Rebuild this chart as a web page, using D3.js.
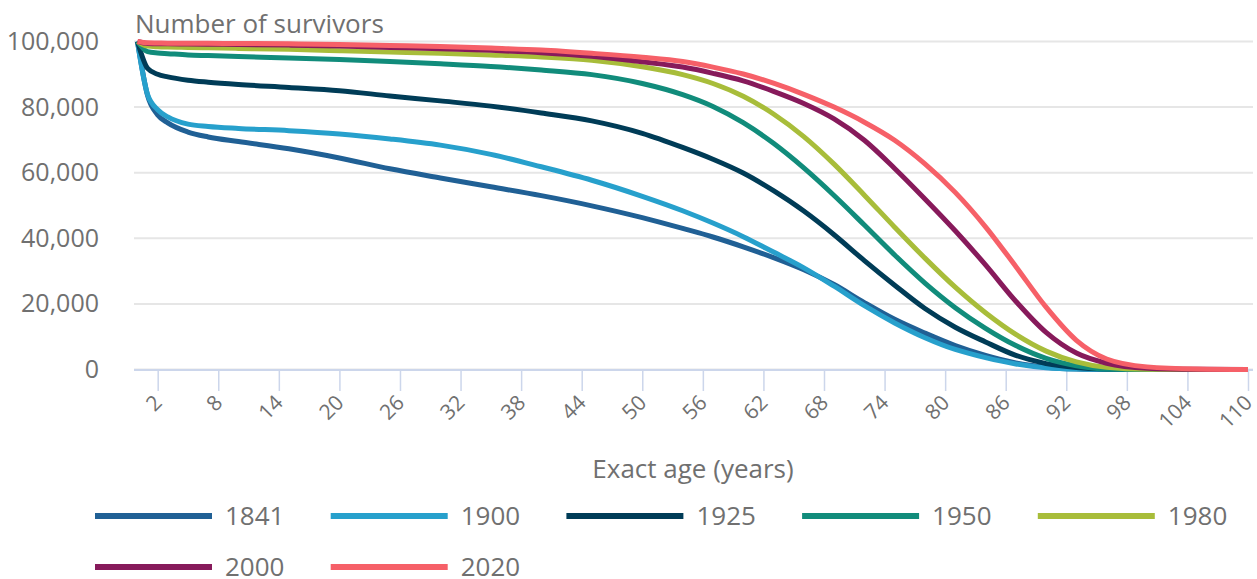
<!DOCTYPE html>
<html>
<head>
<meta charset="utf-8">
<script src="https://cdn.jsdelivr.net/npm/d3@7"></script>
<style>
    body { margin: 0; background: #fff; }
    text { font-family: "Open Sans", sans-serif; fill: #707070; }
</style>
</head>
<body>
<svg id="chart" width="1257" height="579"></svg>
<script>
// Survivors to each exact age, per life table year
const ages = [0, 1, 2, 3, 5, 7, 10, 15, 20, 25, 30, 35, 40, 45, 50, 54, 57, 60, 63, 66, 69, 72, 75, 78, 81, 84, 87, 90, 93, 96, 100, 105, 110];

const s1841 = [100000, 83500, 77600, 75200, 72400, 70900, 69500, 67300, 64500, 61200, 58400, 55700, 53000, 49900, 46300, 43000, 40400, 37400, 34100, 30400, 25900, 20400, 15300, 11100, 7300, 4300, 2000, 700, 150, 30, 0, 0, 0];
const s1900 = [100000, 83800, 79200, 77000, 74800, 74100, 73500, 72800, 71800, 70300, 68400, 65600, 61800, 57700, 52800, 48400, 44650, 40500, 35800, 31000, 25400, 19450, 14200, 9700, 6100, 3600, 1700, 550, 120, 20, 0, 0, 0];
const s1925 = [100000, 91800, 90000, 89200, 88200, 87600, 86900, 86000, 85000, 83400, 81900, 80300, 78200, 75800, 72000, 67700, 64100, 59900, 54500, 48300, 41100, 33200, 25700, 18600, 12900, 8400, 4300, 1800, 600, 150, 0, 0, 0];
const s1950 = [100000, 96900, 96500, 96300, 95900, 95700, 95400, 95000, 94500, 93900, 93200, 92400, 91300, 89900, 87200, 83800, 80200, 75250, 68950, 61450, 53050, 44050, 34900, 26350, 18850, 12550, 7300, 3400, 1150, 160, 0, 0, 0];
const s1980 = [100000, 98600, 98400, 98300, 98200, 98100, 97900, 97600, 97200, 96800, 96400, 95900, 95300, 94300, 92300, 89900, 87200, 83300, 77900, 71000, 62600, 53150, 43400, 33950, 25100, 17300, 10700, 5600, 2300, 650, 50, 0, 0];
const s2000 = [100000, 99400, 99300, 99300, 99200, 99150, 99100, 98900, 98600, 98200, 97800, 97300, 96600, 95500, 93800, 92200, 90300, 88000, 84800, 81100, 76400, 69900, 61300, 52000, 42300, 31900, 20800, 11300, 5000, 1900, 400, 50, 0];
const s2020 = [100000, 99600, 99550, 99500, 99500, 99450, 99400, 99300, 99100, 98800, 98500, 98000, 97400, 96400, 95200, 93900, 92200, 90100, 87300, 83900, 80000, 75400, 69900, 62700, 54000, 43500, 31400, 19000, 8900, 3200, 800, 150, 0];

const seriesNames = ['1841', '1900', '1925', '1950', '1980', '2000', '2020'];
const seriesValues = [s1841, s1900, s1925, s1950, s1980, s2000, s2020];
const seriesColors = ['#206095', '#27a0cc', '#003c57', '#118c7b', '#a8bd3a', '#871a5b', '#f66068'];

const xTicks = [2, 8, 14, 20, 26, 32, 38, 44, 50, 56, 62, 68, 74, 80, 86, 92, 98, 104, 110];
const yTicks = [0, 20000, 40000, 60000, 80000, 100000];

const svg = d3.select('#chart');

// Plot frame
const gridLeft = 134, gridRight = 1253;

const xScale = d3.scaleLinear()
    .domain([0, 110])
    .range([137.5, 1248]);

const yScale = d3.scaleLinear()
    .domain([0, 100000])
    .range([369.5, 41.5]);

// Horizontal grid lines
svg.append('g')
    .selectAll('line')
    .data(yTicks)
    .enter()
    .append('line')
    .attr('x1', gridLeft)
    .attr('x2', gridRight)
    .attr('y1', d => yScale(d))
    .attr('y2', d => yScale(d))
    .attr('stroke', '#e6e6e6')
    .attr('stroke-width', 2);

// Y-axis labels
const yAxis = svg.append('g')
    .attr('transform', 'translate(99,0)')
    .call(d3.axisLeft(yScale).tickValues(yTicks).tickSize(0).tickPadding(0).tickFormat(d3.format(',')));
yAxis.select('.domain').remove();
yAxis.selectAll('text')
    .style('font-size', '25px')
    .style('font-family', '"Open Sans", sans-serif')
    .attr('fill', '#707070');

// Axis title on top
svg.append('text')
    .attr('x', 135)
    .attr('y', 33)
    .style('font-size', '26px')
    .text('Number of survivors');

// X-axis
const xAxis = svg.append('g')
    .attr('transform', 'translate(0,370)')
    .call(d3.axisBottom(xScale).tickValues(xTicks).tickSize(21).tickFormat(d => d));
xAxis.select('.domain').remove();
xAxis.selectAll('.tick line')
    .attr('stroke', '#ccd6eb')
    .attr('stroke-width', 1.5);
xAxis.selectAll('.tick text')
    .attr('fill', '#707070')
    .style('font-size', '21px')
    .style('font-family', '"Open Sans", sans-serif')
    .attr('text-anchor', 'end')
    .attr('y', 0)
    .attr('dy', 0)
    .attr('transform', 'translate(5,34) rotate(-45)');

svg.append('line')
    .attr('x1', gridLeft)
    .attr('x2', gridRight)
    .attr('y1', 370)
    .attr('y2', 370)
    .attr('stroke', '#ccd6eb')
    .attr('stroke-width', 2);

svg.append('text')
    .attr('x', 693)
    .attr('y', 478)
    .attr('text-anchor', 'middle')
    .style('font-size', '26px')
    .text('Exact age (years)');

// Lines
const line = d3.line()
    .x((d, i) => xScale(ages[i]))
    .y(d => yScale(d))
    .curve(d3.curveMonotoneX);

svg.append('g')
    .selectAll('path')
    .data(seriesValues)
    .enter()
    .append('path')
    .attr('d', d => line(d))
    .attr('fill', 'none')
    .attr('stroke', (d, i) => seriesColors[i])
    .attr('stroke-width', 5)
    .attr('stroke-linejoin', 'round');

// Legend
const legend = svg.append('g')
    .selectAll('g')
    .data(seriesNames)
    .enter()
    .append('g')
    .attr('transform', (d, i) => `translate(${95 + (i % 5) * 235.7},${516 + Math.floor(i / 5) * 51})`);

legend.append('line')
    .attr('x1', 0)
    .attr('x2', 117)
    .attr('stroke', (d, i) => seriesColors[i])
    .attr('stroke-width', 6);

legend.append('text')
    .attr('x', 130)
    .attr('dy', '0.35em')
    .style('font-size', '26px')
    .text(d => d);
</script>
</body>
</html>
